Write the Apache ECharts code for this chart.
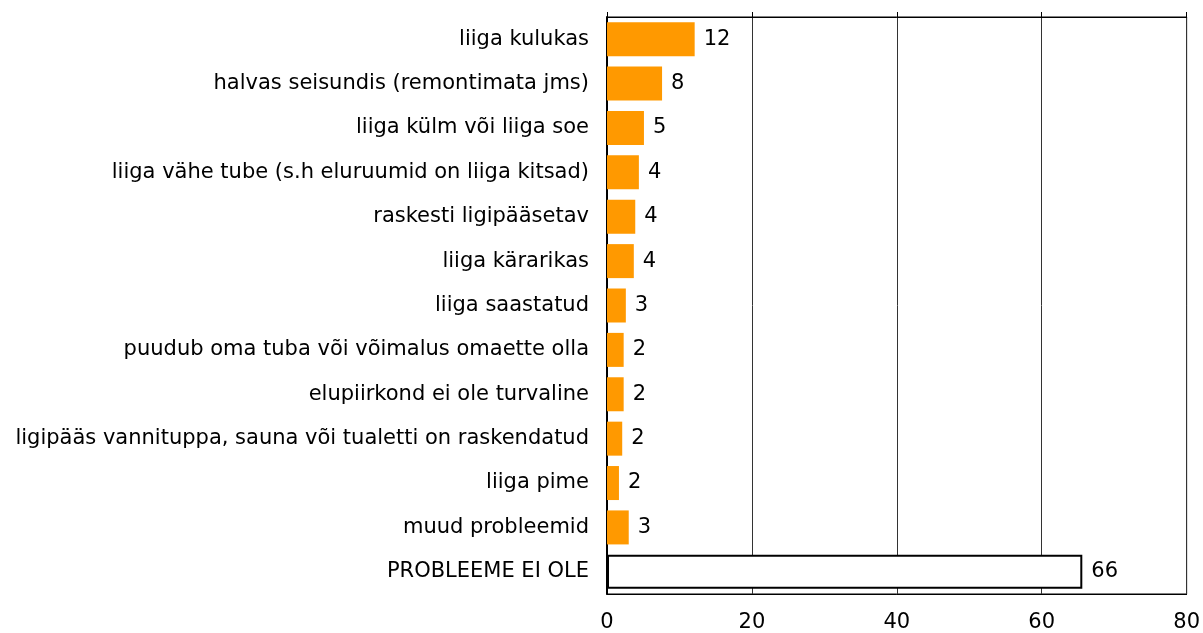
<!DOCTYPE html>
<html>
<head>
<meta charset="utf-8">
<script src="https://cdn.jsdelivr.net/npm/echarts@6/dist/echarts.min.js"></script>
<style>
  html, body { margin: 0; padding: 0; background: #fff; }
  #chart { width: 1203px; height: 633px; }
</style>
</head>
<body>
<div id="chart"></div>
<script>
var categories = [
  'liiga kulukas',
  'halvas seisundis (remontimata jms)',
  'liiga külm või liiga soe',
  'liiga vähe tube (s.h eluruumid on liiga kitsad)',
  'raskesti ligipääsetav',
  'liiga kärarikas',
  'liiga saastatud',
  'puudub oma tuba või võimalus omaette olla',
  'elupiirkond ei ole turvaline',
  'ligipääs vannituppa, sauna või tualetti on raskendatud',
  'liiga pime',
  'muud probleemid',
  'PROBLEEME EI OLE'
]
var values = [12.1, 7.6, 5.1, 4.4, 3.9, 3.7, 2.6, 2.3, 2.3, 2.1, 1.65, 3.0, 65.6]
var xTicks = [0, 20, 40, 60, 80]

var font = 'DejaVu Sans, Verdana, sans-serif'
var chart = echarts.init(document.getElementById('chart'))

var barData = values.map(function(v, i) {
  var last = i === values.length - 1
  return {
    value: v,
    itemStyle: last
      ? { color: '#ffffff', borderColor: '#000000', borderWidth: 2 }
      : { color: '#ff9900' }
  }
})

chart.setOption({
  animation: false,
  grid: {
    left: 607,
    right: 15,
    top: 17,
    bottom: 39,
    show: true,
    borderColor: '#000',
    borderWidth: 1
  },
  xAxis: [{
    type: 'value',
    position: 'bottom',
    min: xTicks[0],
    max: xTicks[xTicks.length - 1],
    interval: 20,
    axisLine: { show: true, lineStyle: { color: '#000', width: 1 } },
    axisTick: { show: false },
    axisLabel: { color: '#000', fontSize: 21, fontFamily: font, margin: 18 },
    splitLine: { show: true, lineStyle: { color: '#333', width: 1 } }
  }, {
    type: 'value',
    position: 'top',
    min: xTicks[0],
    max: xTicks[xTicks.length - 1],
    interval: 20,
    axisLine: { show: true, lineStyle: { color: '#000', width: 1 } },
    axisTick: { show: true, length: 5, lineStyle: { color: '#000' } },
    axisLabel: { show: false },
    splitLine: { show: false }
  }],
  yAxis: {
    type: 'category',
    data: categories,
    inverse: true,
    axisLine: { show: true, lineStyle: { color: '#000', width: 2 } },
    axisTick: { show: false },
    axisLabel: { color: '#000', fontSize: 21, fontFamily: font, margin: 18 }
  },
  series: [{
    type: 'bar',
    data: barData,
    barWidth: 34,
    label: {
      show: true,
      position: 'right',
      distance: 9,
      color: '#000',
      fontSize: 21,
      fontFamily: font,
      formatter: function(p) { return Math.round(p.value) }
    }
  }]
})
</script>
</body>
</html>
